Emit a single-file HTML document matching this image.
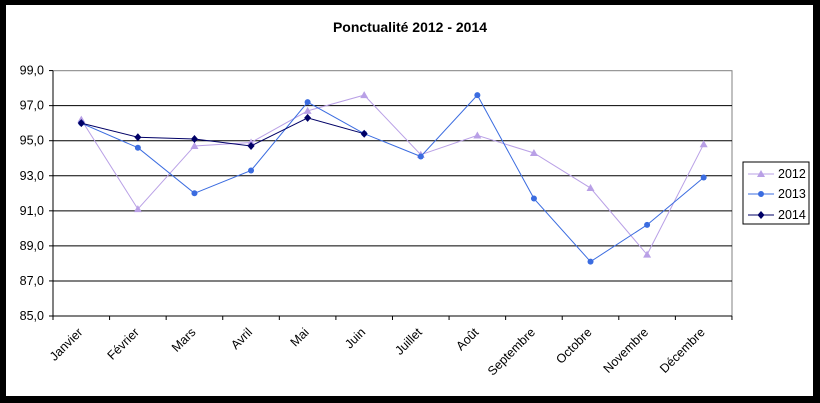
<!DOCTYPE html>
<html><head><meta charset="utf-8"><style>
html,body{margin:0;padding:0;background:#fff;}
body{width:820px;height:403px;overflow:hidden;}
svg{display:block;font-family:"Liberation Sans",Arial,sans-serif;}
</style></head><body>
<svg id="c" width="820" height="403" xmlns="http://www.w3.org/2000/svg">
<rect x="0" y="0" width="820" height="403" fill="#000"/>
<rect x="6" y="5" width="807" height="391" fill="#fff"/>
<text x="410" y="32" text-anchor="middle" font-size="14" font-weight="bold">Ponctualité 2012 - 2014</text>
<rect x="53" y="70.7" width="679" height="245.3" fill="#fff" stroke="#808080" stroke-width="1"/>
<g id="g"></g>
<rect x="743" y="162" width="66" height="62" fill="#fff" stroke="#000" stroke-width="1"/>
<line x1="748" y1="174" x2="774" y2="174" stroke="#b9a0e6"/><polygon points="761,170 765,177 757,177" fill="#b9a0e6"/>
<text x="778" y="178" font-size="12.5">2012</text>
<line x1="748" y1="194" x2="774" y2="194" stroke="#3b6ce0"/><circle cx="761" cy="194" r="3" fill="#3b6ce0"/>
<text x="778" y="198" font-size="12.5">2013</text>
<line x1="748" y1="215" x2="774" y2="215" stroke="#000066"/><polygon points="761,211 764.5,215 761,219 757.5,215" fill="#000066"/>
<text x="778" y="219" font-size="12.5">2014</text>
</svg>
<script>
var g=document.getElementById('g'),s='';
function Y(v){return 316-(v-85)*17.53;}
function X(i){return 53+28.3+i*56.58;}
for(var v=87;v<=99;v+=2){var y=Y(v);if(v<99)s+='<line x1="53" y1="'+y+'" x2="732" y2="'+y+'" stroke="#000"/>';}
s+='<line x1="53" y1="316" x2="732" y2="316" stroke="#000"/><line x1="53" y1="70.7" x2="53" y2="316" stroke="#000"/>';
for(var v=85;v<=99;v+=2){var y=Y(v);s+='<line x1="49" y1="'+y+'" x2="53" y2="'+y+'" stroke="#000"/><text x="44" y="'+(y+4)+'" font-size="12.5" text-anchor="end">'+v+',0</text>';}
for(var i=0;i<=12;i++){var x=53+i*56.58;s+='<line x1="'+x+'" y1="316" x2="'+x+'" y2="320" stroke="#000"/>';}
var m=['Janvier','Février','Mars','Avril','Mai','Juin','Juillet','Août','Septembre','Octobre','Novembre','Décembre'];
for(var i=0;i<12;i++){var x=X(i)+2,y=333;s+='<text x="'+x+'" y="'+y+'" font-size="12.5" text-anchor="end" transform="rotate(-45 '+x+' '+y+')">'+m[i]+'</text>';}
var d12=[96.2,91.1,94.7,94.9,96.7,97.6,94.2,95.3,94.3,92.3,88.5,94.8];
var d13=[96.0,94.6,92.0,93.3,97.2,95.4,94.1,97.6,91.7,88.1,90.2,92.9];
var d14=[96.0,95.2,95.1,94.7,96.3,95.4];
function line(d,c){var p=d.map(function(v,i){return X(i)+','+Y(v)}).join(' ');return '<polyline points="'+p+'" fill="none" stroke="'+c+'" stroke-width="1"/>';}
s+=line(d12,'#b9a0e6');
d12.forEach(function(v,i){var x=X(i),y=Y(v);s+='<polygon points="'+x+','+(y-4)+' '+(x+4)+','+(y+3)+' '+(x-4)+','+(y+3)+'" fill="#b9a0e6"/>';});
s+=line(d13,'#3b6ce0');
d13.forEach(function(v,i){s+='<circle cx="'+X(i)+'" cy="'+Y(v)+'" r="3" fill="#3b6ce0"/>';});
s+=line(d14,'#000066');
d14.forEach(function(v,i){var x=X(i),y=Y(v);s+='<polygon points="'+x+','+(y-4)+' '+(x+3.5)+','+y+' '+x+','+(y+4)+' '+(x-3.5)+','+y+'" fill="#000066"/>';});
g.innerHTML=s;
</script>
</body></html>
